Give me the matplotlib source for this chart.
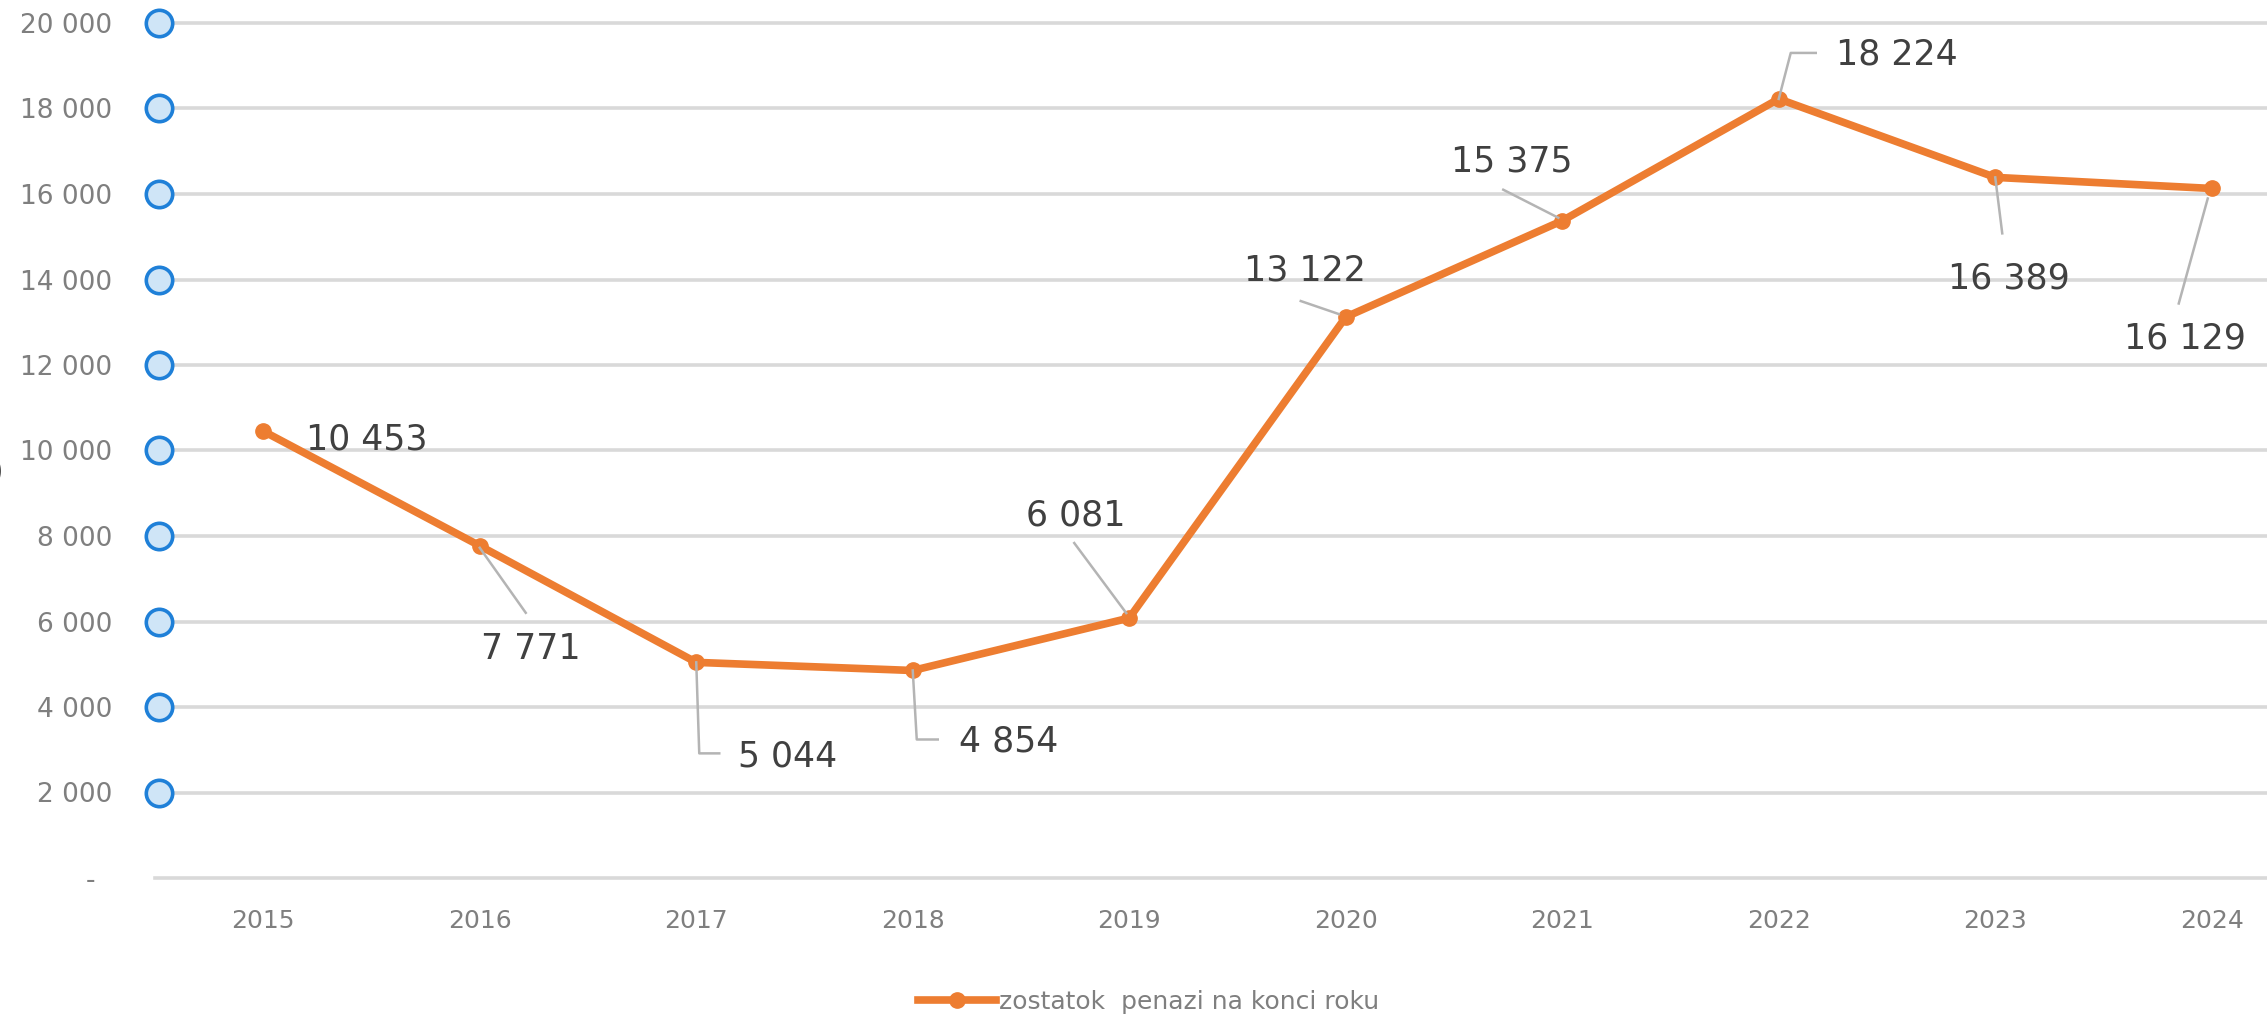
import numpy as np
import matplotlib.pyplot as plt
import matplotlib.transforms as mtransforms
from matplotlib.lines import Line2D

# data
years = ["2015", "2016", "2017", "2018", "2019", "2020", "2021", "2022", "2023", "2024"]
balance = [10453, 7771, 5044, 4854, 6081, 13122, 15375, 18224, 16389, 16129]
y_ticks = [0, 2000, 4000, 6000, 8000, 10000, 12000, 14000, 16000, 18000, 20000]
y_labels = ["-  ", "2 000", "4 000", "6 000", "8 000", "10 000", "12 000",
            "14 000", "16 000", "18 000", "20 000"]
series_name = "zostatok  penazi na konci roku"

# label placement in pixels relative to the point (x right, y down)
label_offsets = [(103, 8), (51, 103), (91, 94), (96, 71), (-54, -103),
                 (-41, -47), (-51, -59), (118, -44), (14, 101), (-27, 150)]
leaders = [
    None,
    [(0, 2), (46, 67)],
    [(0, 0), (3, 91), (23, 91)],
    [(0, 0), (4, 69), (25, 69)],
    [(-55, -75), (-3, -5)],
    [(-45, -16), (-7, -3)],
    [(-59, -31), (-4, -3)],
    [(0, 0), (12, -46), (37, -46)],
    [(0, 0), (7, 56)],
    [(-4, 10), (-33, 115)],
]

W, H = 2267, 1023
fig = plt.figure(figsize=(W / 100, H / 100), dpi=100)
ax = fig.add_axes([155 / W, 1 - 878 / H, (2320 - 155) / W, (878 - 23) / H])

x = np.arange(len(years))
orange = "#ED7D31"

ax.set_xlim(-0.5, len(years) - 0.5)
ax.set_ylim(0, 20000)
ax.set_yticks(y_ticks)
ax.set_yticklabels(y_labels)
ax.set_xticks(x)
ax.set_xticklabels(years)
ax.grid(axis="y", color="#D9D9D9", linewidth=2.6)
for gl in ax.get_ygridlines():
    gl.set_clip_on(False)
ax.set_axisbelow(True)
for s in ax.spines.values():
    s.set_visible(False)
ax.tick_params(axis="both", length=0, colors="#7F7F7F")
ax.tick_params(axis="y", labelsize=19, pad=31)
ax.tick_params(axis="x", labelsize=18, pad=22)

# odd blue circles on the value axis
shift = mtransforms.offset_copy(ax.transData, fig=fig, x=4, y=0, units="dots")
ax.plot(np.full(len(y_ticks) - 1, -0.5), y_ticks[1:], "o", ms=19,
        mfc="#CFE5F7", mec="#1F80D8", mew=2.6, clip_on=False, zorder=3,
        transform=shift)

ax.plot(x, balance, color=orange, lw=5.5, marker="o", ms=11,
        solid_joinstyle="round", zorder=4, label=series_name)

fig.canvas.draw()
for i, v in enumerate(balance):
    px, py = ax.transData.transform((i, v))
    dx, dy = label_offsets[i]
    ax.annotate(f"{v:,}".replace(",", " "), (i, v), xytext=(dx, -dy),
                textcoords="offset pixels", ha="center", va="center",
                fontsize=25, color="#404040", zorder=5)
    if leaders[i] is not None:
        xs = [(px + a) / W for a, b in leaders[i]]
        ys = [(py - b) / H for a, b in leaders[i]]
        fig.add_artist(Line2D(xs, ys, color="#B4B4B4", lw=1.8,
                              transform=fig.transFigure, zorder=5))

# cut-off glyph at the left edge, as in the source image
fig.text(-4 / W, 1 - 472 / H, ")", fontsize=26, color="#404040",
         ha="center", va="center")

handle = Line2D([], [], color=orange, lw=5.5, marker="o", ms=11)
fig.legend([handle], [series_name], loc="center left",
           bbox_to_anchor=(918 / W, 1 - 1002 / H), frameon=False,
           fontsize=18, labelcolor="#7F7F7F", handlelength=3.1,
           handletextpad=0.15, borderpad=0, borderaxespad=0)

fig.savefig("out.png", dpi=100)
